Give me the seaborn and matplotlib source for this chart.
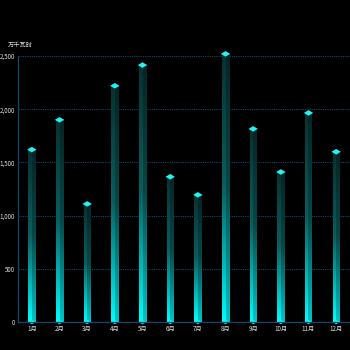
import numpy as np
import pandas as pd
import matplotlib
matplotlib.use("Agg")
import matplotlib.pyplot as plt
from matplotlib.colors import LinearSegmentedColormap
from matplotlib.path import Path
import seaborn as sns

months = ["1月", "2月", "3月", "4月", "5月", "6月", "7月", "8月", "9月", "10月", "11月", "12月"]
values = [1620, 1900, 1110, 2220, 2415, 1365, 1195, 2520, 1815, 1410, 1965, 1600]
y_ticks = [0, 500, 1000, 1500, 2000, 2500]
y_tick_labels = ["0", "500", "1,000", "1,500", "2,000", "2,500"]
unit_label = "万千瓦时"

sns.set_theme(style="dark")
plt.rcParams["font.family"] = ["Noto Sans CJK SC", "DejaVu Sans"]

df = pd.DataFrame({"month": months, "value": values})

fig = plt.figure(figsize=(3.5, 3.5), dpi=100, facecolor="black")
ax = fig.add_axes([18 / 350, 28 / 350, 332 / 350, 266 / 350])
ax.set_facecolor("black")

sns.barplot(data=df, x="month", y="value", ax=ax, width=0.26,
            color="black", saturation=1, zorder=2)

ax.set_ylim(0, 2500)
ax.set_xlim(-0.5, len(months) - 0.5)

# vertical gradient fills (dark at the top, bright cyan at the base);
# the left half is brighter than the right to give a rounded look
light = LinearSegmentedColormap.from_list("light", ["#08302f", "#0b5e5e", "#00fdfd"])
deep = LinearSegmentedColormap.from_list("deep", ["#052424", "#074848", "#00c4c8"])
grad = np.linspace(0, 1, 256).reshape(-1, 1)
for p in ax.patches:
    x0 = p.get_x()
    w = p.get_width()
    h = p.get_height()
    p.set_visible(False)
    for xa, xb, cm in ((x0, x0 + w / 2, light), (x0 + w / 2, x0 + w, deep)):
        im = ax.imshow(grad, cmap=cm, aspect="auto", extent=(xa, xb, 0, h),
                       origin="upper", zorder=2, interpolation="bilinear")
        im.set_clip_on(False)

# flattened diamond caps and bottom tips
cap = Path([(-1, 0), (0, 0.6), (1, 0), (0, -0.6), (-1, 0)],
           [Path.MOVETO, Path.LINETO, Path.LINETO, Path.LINETO, Path.CLOSEPOLY])
sns.scatterplot(data=df, x="month", y="value", ax=ax, marker=cap, s=45,
                color="#22f4f4", edgecolor="none", zorder=4, legend=False,
                clip_on=False)
sns.scatterplot(x=months, y=[0] * len(months), ax=ax, marker=cap, s=30,
                color="#10f0f0", edgecolor="none", zorder=3, legend=False,
                clip_on=False)

ax.set_yticks(y_ticks)
ax.set_yticklabels(y_tick_labels)
ax.grid(axis="y", color="#0b4a6e", linestyle=(0, (1, 1)), linewidth=0.8, zorder=1)
ax.grid(axis="x", visible=False)
ax.set_xlabel("")
ax.set_ylabel("")
ax.tick_params(axis="both", colors="#dddddd", labelsize=4.5, length=0, pad=2)
for side in ["top", "right"]:
    ax.spines[side].set_visible(False)
for side in ["left", "bottom"]:
    ax.spines[side].set_visible(True)
    ax.spines[side].set_color("#0b4a6e")
    ax.spines[side].set_linewidth(0.9)
    ax.spines[side].set_zorder(5)

fig.text(8 / 350, 1 - 45 / 350, unit_label, color="#dddddd", fontsize=4.5,
         va="center", ha="left")

fig.savefig("out.png", dpi=100, facecolor="black")
